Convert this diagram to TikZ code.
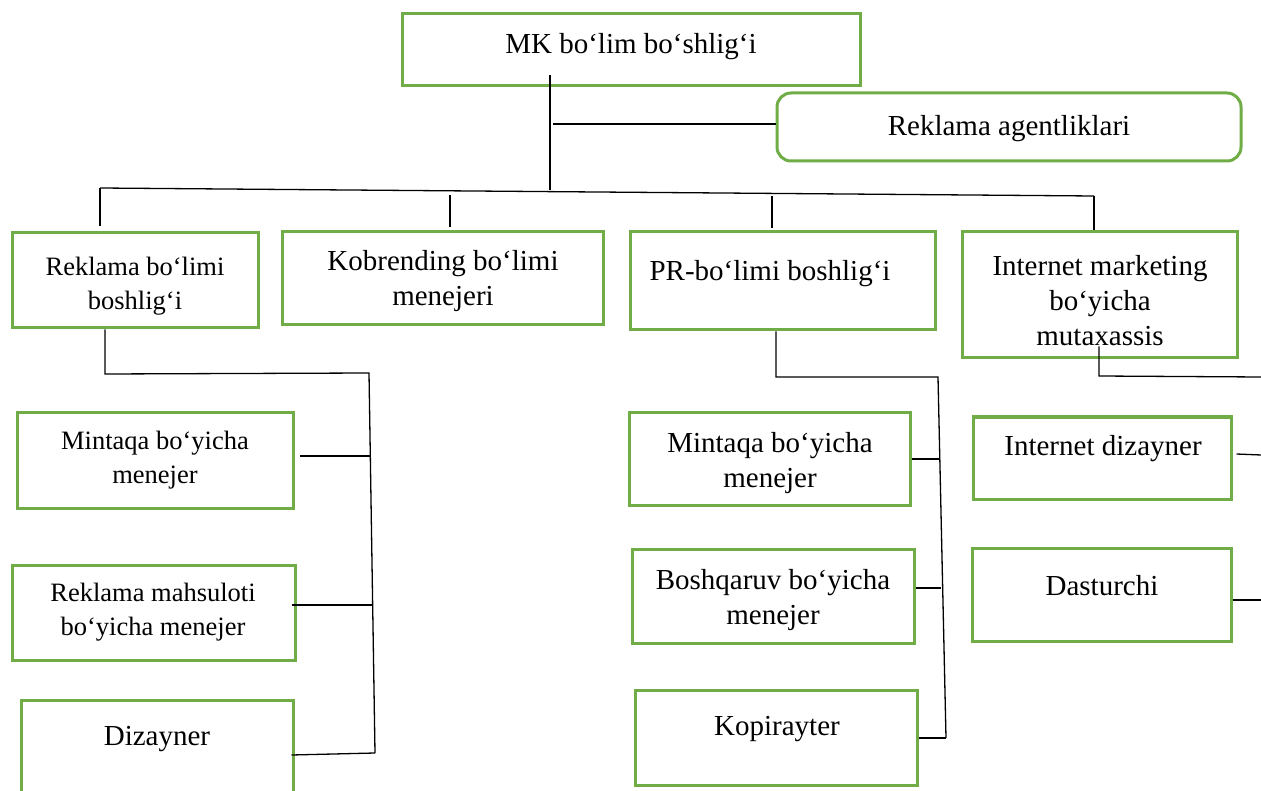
\documentclass[tikz,border=0pt]{standalone}
\usepackage{fontspec}
\setmainfont{Liberation Serif}
\definecolor{boxgreen}{HTML}{70AD47}
\begin{document}
\begin{tikzpicture}[x=1pt,y=-1pt,
  box/.style={draw=boxgreen, line width=3pt, inner sep=0pt},
  lbl/.style={font=\fontsize{29}{35}\selectfont, align=center, inner sep=0pt},
  lbls/.style={font=\fontsize{26.5}{34}\selectfont, align=center, inner sep=0pt},
  link/.style={draw=black, line width=1.3pt}]
\useasboundingbox[fill=white] (0,0) rectangle (1261,791);

% ---- boxes ----
\node[box, minimum width=458pt, minimum height=72pt] (mk) at (631,50) {};
\node[box, rounded corners=14pt, minimum width=464pt, minimum height=68pt] (ra) at (1009,127) {};
\node[box, minimum width=246pt, minimum height=95pt] (rb) at (135,280.5) {};
\node[box, minimum width=321pt, minimum height=93pt] (kb) at (442.5,278.5) {};
\node[box, minimum width=305pt, minimum height=98pt] (pr) at (782.5,281) {};
\node[box, minimum width=275pt, minimum height=126pt] (im) at (1099.5,295) {};
\node[box, minimum width=276pt, minimum height=95pt] (lm1) at (155,460.5) {};
\node[box, minimum width=283pt, minimum height=95pt] (lm2) at (153.5,612.5) {};
\node[box, minimum width=272pt, minimum height=100pt] (lm3) at (157,750) {};
\node[box, minimum width=281pt, minimum height=92pt] (pm1) at (769.5,459) {};
\node[box, minimum width=282pt, minimum height=94pt] (pm2) at (773,596) {};
\node[box, minimum width=282pt, minimum height=95pt] (pm3) at (776,737.5) {};
\node[box, minimum width=258pt, minimum height=82pt] (id) at (1102,458) {};
\node[box, minimum width=259pt, minimum height=93pt] (ds) at (1101.5,594.5) {};

% ---- labels ----
\node[lbl] (tmk) at (631,47) {MK bo‘lim bo‘shlig‘i};
\node[lbl] (tra) at (1009,129) {Reklama agentliklari};
\node[lbls] (trb) at (135,286) {Reklama bo‘limi\\boshlig‘i};
\node[lbl] (tkb) at (443,281) {Kobrending bo‘limi\\menejeri};
\node[lbl] (tpr) at (770,274) {PR-bo‘limi boshlig‘i};
\node[lbl] (tim) at (1100,301) {Internet marketing\\bo‘yicha\\mutaxassis};
\node[lbls] (tlm1) at (155,460) {Mintaqa bo‘yicha\\menejer};
\node[lbls] (tlm2) at (153,612) {Reklama mahsuloti\\bo‘yicha menejer};
\node[lbl] (tlm3) at (157,739) {Dizayner};
\node[lbl] (tpm1) at (770,463) {Mintaqa bo‘yicha\\menejer};
\node[lbl] (tpm2) at (773,600) {Boshqaruv bo‘yicha\\menejer};
\node[lbl] (tpm3) at (777,729) {Kopirayter};
\node[lbl] (tid) at (1103,449) {Internet dizayner};
\node[lbl] (tds) at (1102,586) {Dasturchi};

% ---- junction points ----
\coordinate (j0) at (550,190);
\coordinate (ja) at (553,124);
\coordinate (busL) at (100,188);
\coordinate (busR) at (1094,196);
\coordinate (dk) at (450,195);
\coordinate (dp) at (772,196);
\coordinate (lt) at (105,374);
\coordinate (lv1) at (369,373);
\coordinate (lv2) at (375,753);
\coordinate (lb1) at (369.5,456);
\coordinate (lb2) at (372.3,605);
\coordinate (pt) at (776,377);
\coordinate (pv1) at (938,377);
\coordinate (pv2) at (946,738);
\coordinate (pb1) at (939.5,459);
\coordinate (pb2) at (941,588);
\coordinate (it) at (1099,376);
\coordinate (iv) at (1261,377);
\coordinate (ib1) at (1261,455);
\coordinate (ib2) at (1261,600);

% ---- connectors ----
\draw[link] ([yshift=12pt]mk.south -| j0) -- (j0);
\draw[link] (ja) -- (ja -| ra.west);
\draw[link] (busL) -- (busR);
\draw[link] (busL) -- ([yshift=5pt]busL |- rb.north);
\draw[link] (dk) -- ([yshift=3pt]dk |- kb.north);
\draw[link] (dp) -- ([yshift=2pt]dp |- pr.north);
\draw[link] (busR) -- (busR |- im.north);

\draw[link] (rb.south -| lt) -- (lt) -- (lv1) -- (lv2);
\draw[link] ([xshift=5pt]lm1.east |- lb1) -- (lb1);
\draw[link] ([xshift=-5pt]lm2.east |- lb2) -- (lb2);
\draw[link] ([xshift=-3pt,yshift=-2pt]lm3.east |- lv2) -- (lv2);

\draw[link] (pr.south -| pt) -- (pt) -- (pv1) -- (pv2);
\draw[link] (pm1.east |- pb1) -- (pb1);
\draw[link] (pm2.east |- pb2) -- (pb2);
\draw[link] (pm3.east |- pv2) -- (pv2);

\draw[link] ([yshift=13pt]im.south -| it) -- (it) -- (iv);
\draw[link] ([xshift=4pt,yshift=1pt]id.east |- ib1) -- (ib1);
\draw[link] (ds.east |- ib2) -- (ib2);
\end{tikzpicture}
\end{document}
